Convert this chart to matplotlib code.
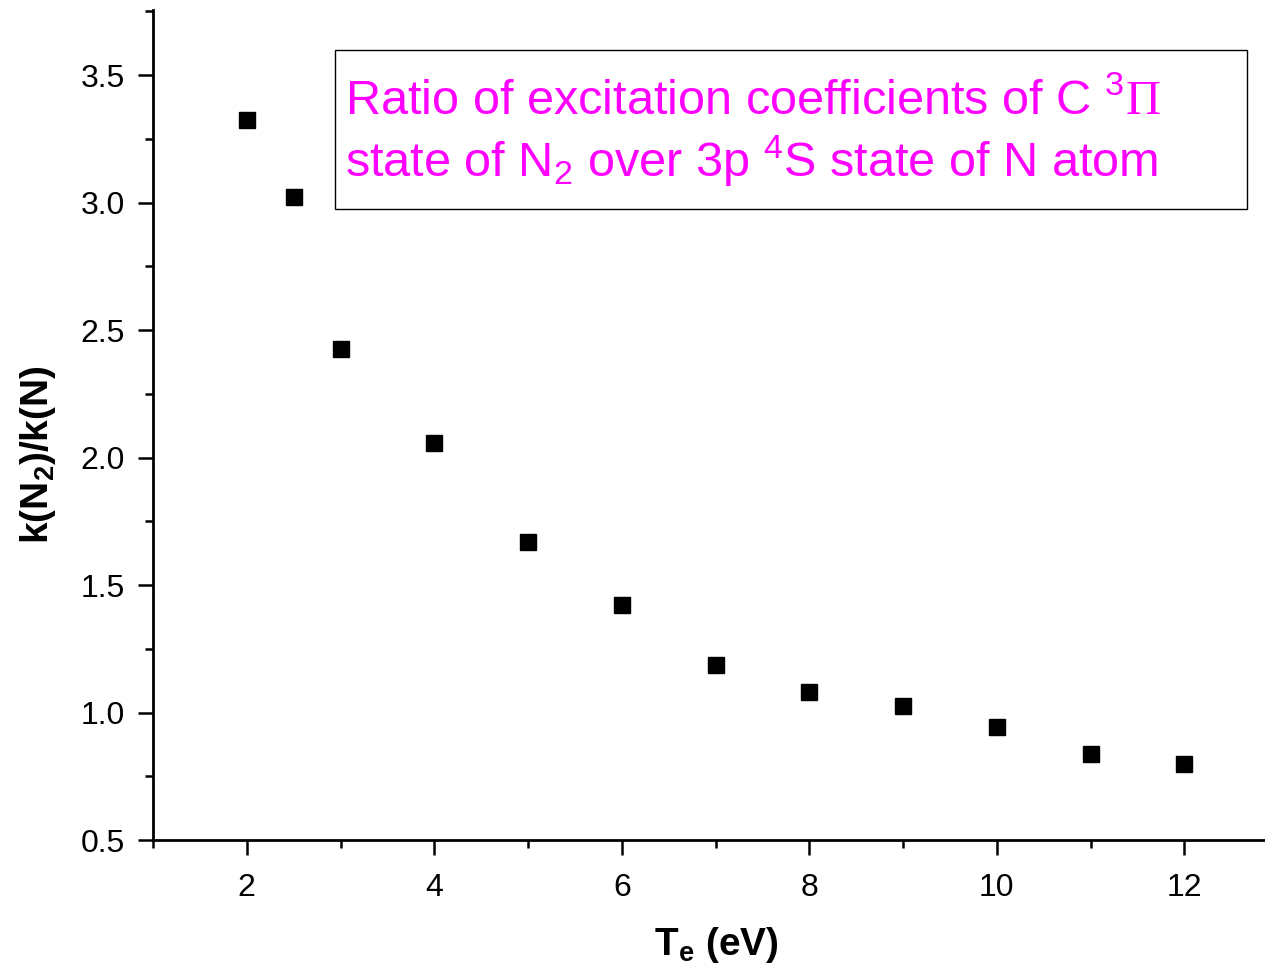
import numpy as np
import matplotlib.pyplot as plt
from matplotlib.ticker import MultipleLocator
from matplotlib.patches import Rectangle

te = [2, 2.5, 3, 4, 5, 6, 7, 8, 9, 10, 11, 12]
ratio = [3.324, 3.02, 2.425, 2.057, 1.669, 1.422, 1.186, 1.080, 1.025, 0.943, 0.837, 0.798]

box_lines = ["Ratio of excitation coefficients of C $^{\\mathsf{3}}\\mathrm{\\Pi}$",
             "state of N$_{\\mathsf{2}}$ over 3p $^{\\mathsf{4}}$S state of N atom"]

plt.rcParams['font.family'] = ['Liberation Sans', 'DejaVu Sans']
plt.rcParams['mathtext.fontset'] = 'custom'
plt.rcParams['mathtext.rm'] = 'Liberation Serif'
plt.rcParams['mathtext.sf'] = 'Liberation Sans'
plt.rcParams['mathtext.it'] = 'Liberation Sans:italic'
plt.rcParams['mathtext.bf'] = 'Liberation Sans:bold'

W, H = 1265, 973


def main():
    fig = plt.figure(figsize=(W / 100, H / 100), dpi=100)
    ax = fig.add_axes([153 / W, 1 - 840 / H, 1 - 153 / W, (840 - 10) / H])

    ax.plot(te, ratio, linestyle='none', marker='s', markersize=12, color='black')

    ax.set_xlim(1, 12.86)
    ax.set_ylim(0.5, 3.755)
    ax.xaxis.set_major_locator(MultipleLocator(2))
    ax.xaxis.set_minor_locator(MultipleLocator(1))
    ax.yaxis.set_major_locator(MultipleLocator(0.5))
    ax.yaxis.set_minor_locator(MultipleLocator(0.25))
    ax.yaxis.set_major_formatter(plt.FormatStrFormatter('%.1f'))

    for side in ['top', 'right']:
        ax.spines[side].set_visible(False)
    for side in ['left', 'bottom']:
        ax.spines[side].set_linewidth(2)

    ax.tick_params(which='major', direction='out', length=11, width=1.8, labelsize=23)
    ax.tick_params(axis='y', which='major', pad=9)
    ax.tick_params(axis='x', which='major', pad=13)
    ax.tick_params(which='minor', direction='out', length=6, width=1.8)

    ax.set_xlabel("T$_{\\mathbf{e}}$ (eV)", fontsize=28, fontweight='bold')
    ax.set_ylabel("k(N$_{\\mathbf{2}}$)/k(N)", fontsize=28, fontweight='bold')
    ax.xaxis.set_label_coords((716 - 153) / 1112, (840 - 925) / 830)
    ax.yaxis.set_label_coords((58 - 153) / 1112, (840 - 455) / 830)

    # text box
    fig.patches.append(Rectangle((335 / W, 1 - 209 / H), (1247 - 335) / W, (209 - 50) / H,
                                 transform=fig.transFigure, facecolor='white',
                                 edgecolor='black', linewidth=1, zorder=3))
    for line, base in zip(box_lines, [114, 177]):
        fig.text(345 / W, 1 - base / H, line, fontsize=35, color='#ff00ff',
                 va='baseline', ha='left', zorder=4)

    fig.savefig('out.png', dpi=100)


if __name__ == "__main__":
    main()
